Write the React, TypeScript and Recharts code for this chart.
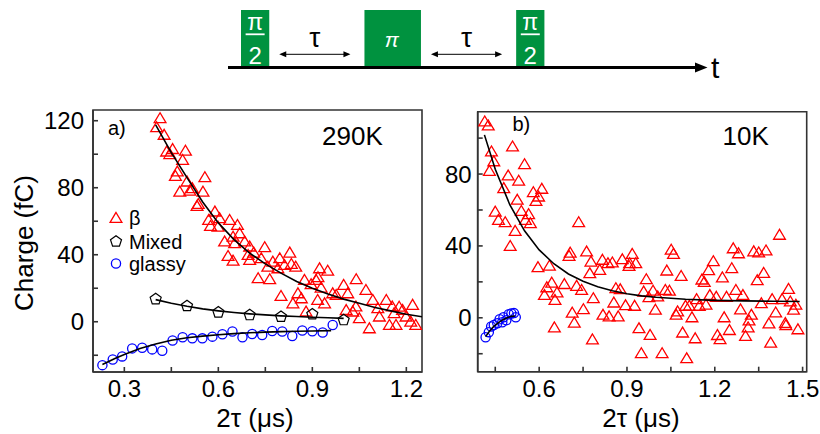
import React from 'react';
import { ScatterChart, Scatter, XAxis, YAxis, Legend, ReferenceArea } from 'recharts';

type P = [number, number];

// ---------- Panel a (290 K) ----------
const A_BETA: P[] = [
  [0.414, 121.4], [0.403, 116], [0.427, 111.5], [0.435, 101.5], [0.454, 103], [0.495, 102], [0.445, 100],
  [0.486, 96.5], [0.469, 89.6], [0.463, 87], [0.477, 77.6], [0.5, 83.6], [0.517, 79.6], [0.509, 78.2],
  [0.557, 86.2], [0.551, 77.6], [0.536, 70.2], [0.532, 69], [0.589, 65.7], [0.569, 60.7], [0.575, 57.1],
  [0.604, 61.7], [0.599, 56.7], [0.636, 60.7], [0.661, 57.7], [0.668, 52.7], [0.647, 50.7], [0.62, 47.8],
  [0.684, 47.8], [0.652, 46.8], [0.631, 39.2], [0.647, 36.4], [0.695, 39.8],
  [0.7, 44.8], [0.713, 41.2], [0.748, 44.4], [0.7, 36.8], [0.737, 37.8], [0.774, 35.8], [0.796, 37.8],
  [0.828, 41.2], [0.811, 33.8], [0.833, 34.4], [0.847, 32.8], [0.758, 32.8], [0.79, 31.8], [0.727, 25.9],
  [0.764, 25.3], [0.923, 31.8], [0.949, 30.4], [0.918, 26.5], [0.875, 24.9], [0.896, 22.3], [0.912, 24.9],
  [0.928, 20.3], [1.0, 21.9], [1.04, 25.3],
  [0.8, 15.3], [0.854, 16.9], [0.838, 10.9], [0.865, 13.9], [0.88, 6], [0.917, 12.9], [0.939, 10.9],
  [0.965, 16.9], [0.976, 15.9], [1.013, 16.9], [1.008, 6.9], [1.029, 6], [1.05, 2], [1.082, -4],
  [1.071, 18.9], [1.093, 12.9], [1.109, 8], [1.114, 3], [1.136, 12.9], [1.146, -2], [1.167, -2],
  [1.161, 5], [1.188, 7], [1.199, 3], [1.22, 10], [1.214, 0], [1.23, -2], [1.177, 8.9], [1.039, 9], [1.155, 9],
];
const A_BETA_FIT: P[] = [
  [0.4, 117.5], [0.45, 101], [0.5, 86], [0.55, 71.5], [0.6, 59], [0.65, 49], [0.7, 41], [0.75, 34.5],
  [0.8, 29], [0.85, 24], [0.9, 20], [0.95, 16.5], [1.0, 13.5], [1.05, 11], [1.1, 8.5], [1.15, 6.5],
  [1.2, 4.5], [1.25, 3],
];
const A_MIXED: P[] = [[0.4, 13.5], [0.5, 9.4], [0.6, 5.6], [0.7, 4], [0.8, 3], [0.9, 4.5], [1.0, 1]];
const A_MIXED_FIT: P[] = [
  [0.4, 13.2], [0.45, 11], [0.5, 9.2], [0.55, 7.7], [0.6, 6.5], [0.65, 5.5], [0.7, 4.7], [0.75, 4.1],
  [0.8, 3.5], [0.85, 3.1], [0.9, 2.7], [0.95, 2.4], [1.0, 2],
];
const A_GLASSY: P[] = [
  [0.23, -25.9], [0.263, -22.5], [0.293, -20.7], [0.325, -15.9], [0.357, -15.5], [0.389, -16.5],
  [0.421, -17.3], [0.454, -11.2], [0.486, -9.3], [0.517, -9.9], [0.549, -9.9], [0.581, -8.9],
  [0.613, -7.5], [0.645, -5.8], [0.677, -9.3], [0.708, -7.3], [0.74, -7.9], [0.772, -5.5],
  [0.804, -5.8], [0.836, -8.5], [0.868, -5.2], [0.9, -5.7], [0.933, -6.4], [0.965, -1.9],
];
const A_GLASSY_FIT: P[] = [
  [0.23, -25.5], [0.27, -22], [0.3, -19.5], [0.35, -16], [0.4, -13.3], [0.45, -11], [0.5, -9.6],
  [0.55, -8.6], [0.6, -7.8], [0.65, -7.1], [0.7, -6.6], [0.75, -6.2], [0.8, -5.9], [0.85, -5.7],
  [0.9, -5.5], [0.96, -5.3],
];

// ---------- Panel b (10 K) ----------
const B_BETA: P[] = [
  [0.414, 109.2], [0.426, 107], [0.509, 95.3], [0.437, 92.5], [0.445, 87], [0.43, 81.7], [0.55, 85.4],
  [0.494, 79.1], [0.53, 76.2], [0.479, 72.1], [0.58, 69.8], [0.609, 71.7], [0.598, 67.4], [0.589, 65],
  [0.525, 65.6], [0.45, 59], [0.539, 59.4], [0.461, 54.4], [0.484, 53.1], [0.564, 57.6], [0.553, 54.4],
  [0.57, 52.6], [0.518, 48.3], [0.735, 53.1],
  [0.501, 39.9], [0.706, 36.2], [0.702, 34.4], [0.762, 36.8], [0.777, 31.2], [0.773, 24.7], [0.596, 28.1],
  [0.635, 28.9], [0.643, 19.5], [0.626, 16.9], [0.618, 12.6], [0.661, 14], [0.654, 9.9], [0.686, 18.7],
  [0.728, 17.7], [0.745, 15.4], [0.713, 2.8], [0.72, -2.8], [0.751, 4.7], [0.785, 10.8], [0.652, -5.4],
  [0.782, -12.1],
  [0.816, 32.2], [0.835, 30.3], [0.85, 30.7], [0.807, 26.6], [0.884, 32.5], [0.918, 35.5], [0.909, 30.3],
  [0.93, 30.3], [0.907, 28.8], [0.862, 16.4], [0.877, 15.8], [0.855, 8.4], [0.895, 6.9], [0.926, 6.6],
  [0.818, 1.6], [0.839, 0.7], [0.87, 0.7], [0.941, -5.9], [0.979, -9.6], [0.949, -19.8], [1.02, -19.8],
  [1.104, -22.6], [0.966, 21.4], [0.957, 14.5], [0.989, 15.0], [0.975, 11.4], [1.005, 11.8], [0.997, 4.4],
  [1.036, 26.2], [1.051, 37.8], [1.059, 35.5], [1.031, 15.4], [1.045, 15], [1.085, 23.2], [1.073, 3.5],
  [1.068, 1.6], [1.09, -8.3], [1.122, 0.2], [1.133, -11.5], [1.1, 6.6], [1.113, 6.6], [1.138, 10.3],
  [1.147, 6.6], [1.17, 7.2], [1.156, 21.2], [1.164, 19.9], [1.179, 26.4], [1.195, 31.4], [1.183, 12.6],
  [1.205, 11.6], [1.209, -9.7], [1.218, -12], [1.226, 22.4], [1.232, 0.2], [1.24, 11.6], [1.25, -6.9],
  [1.258, 27.5], [1.263, 38.6], [1.281, 35.8], [1.272, 15.4], [1.296, 12.6], [1.288, 4.6], [1.305, -10.2],
  [1.314, -5.4], [1.325, 1.6], [1.317, -1.6], [1.333, 36.9], [1.35, 36.3], [1.375, 37.4], [1.345, 20.8],
  [1.367, 24.9], [1.359, 8], [1.385, -3.2], [1.391, -13.9], [1.396, 10.3], [1.408, 2.9], [1.421, 46.1],
  [1.43, 10.3], [1.441, -3.0], [1.443, -4.2], [1.452, 16.0], [1.458, 9.0], [1.469, 4.4], [1.477, 7.2],
  [1.484, -6.5],
];
const B_BETA_FIT: P[] = [
  [0.413, 101.8], [0.45, 82.7], [0.5, 62.8], [0.55, 48.4], [0.6, 37.8], [0.65, 30.1], [0.7, 24.4],
  [0.75, 20.3], [0.8, 17.3], [0.85, 15], [0.9, 13.4], [0.95, 12.2], [1.0, 11.4], [1.1, 10.3],
  [1.2, 9.7], [1.3, 9.4], [1.4, 9.2], [1.49, 9.1],
];
const B_GLASSY: P[] = [
  [0.417, -10.8], [0.428, -8], [0.436, -4.8], [0.445, -4], [0.457, -3], [0.465, -0.8], [0.474, -2.5],
  [0.478, 0.3], [0.488, -1.4], [0.496, 2], [0.505, 2.4], [0.514, 2.6], [0.52, 0.3],
];
const B_GLASSY_FIT: P[] = [
  [0.417, -10.5], [0.43, -7.5], [0.445, -4.8], [0.46, -2.8], [0.475, -1.2], [0.49, 0], [0.505, 0.8], [0.518, 1],
];

// ---------- Ticks / legend ----------
const A_X_TICKS = [0.3, 0.45, 0.6, 0.75, 0.9, 1.05, 1.2];
const A_Y_TICKS = [-20, 0, 20, 40, 60, 80, 100, 120];
const B_X_TICKS = [0.45, 0.6, 0.75, 0.9, 1.05, 1.2, 1.35, 1.5];
const B_Y_TICKS = [-20, 0, 20, 40, 60, 80, 100];
const A_X_DOMAIN: P = [0.2, 1.25];
const A_Y_DOMAIN: P = [-30, 126.4];
const B_X_DOMAIN: P = [0.39, 1.514];
const B_Y_DOMAIN: P = [-30, 114.7];
const LEGEND_ORDER = ['β', 'Mixed', 'glassy'];

// ---------- Pulse sequence (durations in units of the π/2 pulse) ----------
const PULSE_SEQ = [
  { kind: 'pulse', label: 'π/2', dur: 1 },
  { kind: 'delay', label: 'τ', dur: 3.37 },
  { kind: 'pulse', label: 'π', dur: 2 },
  { kind: 'delay', label: 'τ', dur: 3.37 },
  { kind: 'pulse', label: 'π/2', dur: 1 },
];

const FONT = '"Liberation Sans", Arial, Helvetica, sans-serif';
const AXIS = '#333333';
const GREEN = '#00923F';

const pts = (a: P[]) => a.map(([x, y]) => ({ x, y }));

const Tri = (p: any) => {
  const { cx, cy } = p;
  if (cx == null || cy == null) return <g />;
  return (
    <polygon
      points={`${cx},${cy - 5.6} ${cx - 5.9},${cy + 4.3} ${cx + 5.9},${cy + 4.3}`}
      fill="none" stroke="#FF0000" strokeWidth={1.3} strokeLinejoin="miter"
    />
  );
};
const pentPoints = (cx: number, cy: number, r: number) =>
  [0, 1, 2, 3, 4]
    .map((i) => {
      const a = -Math.PI / 2 + (i * 2 * Math.PI) / 5;
      return `${cx + r * Math.cos(a)},${cy + r * Math.sin(a)}`;
    })
    .join(' ');
const Pent = (p: any) => {
  const { cx, cy } = p;
  if (cx == null || cy == null) return <g />;
  return <polygon points={pentPoints(cx, cy, 5.8)} fill="none" stroke="#000" strokeWidth={1.2} />;
};
const Circ = (p: any) => {
  const { cx, cy } = p;
  if (cx == null || cy == null) return <g />;
  return <circle cx={cx} cy={cy} r={4.6} fill="none" stroke="#0000FF" strokeWidth={1.3} />;
};
const NoShape = () => <g />;

const makeXTick = (gap: number) => (p: any) => {
  const { x, y, payload } = p;
  const v = payload.value;
  const major = Math.abs(v * 10 - Math.round(v * 10)) < 1e-6;
  if (!major) return <g />;
  return (
    <text x={x} y={y + gap} textAnchor="middle" fontFamily={FONT} fontSize={24} fill="#000">
      {v.toFixed(1)}
    </text>
  );
};
const YTick = (p: any) => {
  const { x, y, payload } = p;
  const v = payload.value;
  if (v % 40 !== 0) return <g />;
  return (
    <text x={x} y={y + 8.5} textAnchor="end" fontFamily={FONT} fontSize={24} fill="#000">
      {String(v)}
    </text>
  );
};

const LegendBox = (props: any) => {
  const items = (props.payload || [])
    .filter((e: any) => e.type !== 'none' && LEGEND_ORDER.includes(e.value))
    .sort((a: any, b: any) => LEGEND_ORDER.indexOf(a.value) - LEGEND_ORDER.indexOf(b.value));
  const rows = [13, 36.5, 58.5];
  return (
    <svg width={100} height={72} style={{ overflow: 'visible' }}>
      {items.map((e: any, i: number) => {
        const cy = rows[i] ?? 13 + i * 23;
        const cx = 11;
        const icon =
          e.value === 'β' ? <Tri cx={cx} cy={cy} /> : e.value === 'Mixed' ? <Pent cx={cx} cy={cy} /> : <Circ cx={cx} cy={cy} />;
        return (
          <g key={i}>
            {icon}
            <text x={24} y={cy + 7} fontFamily={FONT} fontSize={20} fill="#000">
              {e.value}
            </text>
          </g>
        );
      })}
    </svg>
  );
};

const PulseDiagram = () => {
  const UNIT = 28.25;
  const T0 = 241;
  const BASE = 67.5;
  const TOP = 10;
  let cur = T0;
  const segs = PULSE_SEQ.map((s) => {
    const x0 = cur;
    cur += s.dur * UNIT;
    return { ...s, x0, x1: cur };
  });
  return (
    <g fontFamily={FONT}>
      {segs.map((s, i) => {
        const cx = (s.x0 + s.x1) / 2;
        if (s.kind === 'pulse') {
          return (
            <g key={i}>
              <rect x={s.x0} y={TOP} width={s.x1 - s.x0} height={BASE - TOP} fill={GREEN} />
              {s.label === 'π/2' ? (
                <>
                  <text x={cx} y={29.5} textAnchor="middle" fontSize={23} fill="#fff">π</text>
                  <line x1={cx - 9.5} x2={cx + 9.5} y1={34.3} y2={34.3} stroke="#fff" strokeWidth={1.8} />
                  <text x={cx} y={64} textAnchor="middle" fontSize={24} fill="#fff">2</text>
                </>
              ) : (
                <text x={cx - 1} y={46.5} textAnchor="middle" fontSize={21} fontStyle="italic" fill="#fff">
                  {s.label}
                </text>
              )}
            </g>
          );
        }
        const a0 = s.x0 + 10;
        const a1 = s.x1 - 14;
        const ay = 54.3;
        return (
          <g key={i}>
            <line x1={a0 + 2} x2={a1 - 2} y1={ay} y2={ay} stroke="#000" strokeWidth={1} />
            <polygon points={`${a0},${ay} ${a0 + 7},${ay - 3} ${a0 + 7},${ay + 3}`} fill="#000" />
            <polygon points={`${a1},${ay} ${a1 - 7},${ay - 3} ${a1 - 7},${ay + 3}`} fill="#000" />
            <text x={(a0 + a1) / 2} y={46.5} textAnchor="middle" fontSize={28} fill="#000">
              {s.label}
            </text>
          </g>
        );
      })}
      <line x1={228} x2={698} y1={BASE} y2={BASE} stroke="#000" strokeWidth={3} />
      <polygon points={`695,${BASE - 5} 707.5,${BASE} 695,${BASE + 5}`} fill="#000" />
      <text x={711} y={78} fontSize={30} fill="#000">t</text>
    </g>
  );
};

export default function App() {
  const axisCommon = { stroke: AXIS, strokeWidth: 1.6 };
  return (
    <div style={{ position: 'absolute', left: 0, top: 0, width: 820, height: 434, background: '#fff', overflow: 'hidden' }}>
      {/* Panel a */}
      <div style={{ position: 'absolute', left: 0, top: 90 }}>
        <ScatterChart width={430} height={344} margin={{ top: 20, right: 8, bottom: 0, left: 0 }}>
          <XAxis
            type="number" dataKey="x" domain={A_X_DOMAIN} allowDataOverflow ticks={A_X_TICKS}
            height={62} tickSize={-5} tickMargin={5} tick={makeXTick(25)}
            axisLine={axisCommon} tickLine={axisCommon} interval={0}
          />
          <YAxis
            type="number" dataKey="y" domain={A_Y_DOMAIN} allowDataOverflow ticks={A_Y_TICKS}
            width={93} tickSize={-5} tickMargin={14} tick={YTick}
            axisLine={axisCommon} tickLine={axisCommon} interval={0}
          />
          <ReferenceArea x1={A_X_DOMAIN[0]} x2={A_X_DOMAIN[1]} y1={A_Y_DOMAIN[0]} y2={A_Y_DOMAIN[1]} fill="none" stroke={AXIS} strokeWidth={1.6} fillOpacity={0} />
          <Scatter name="β" data={pts(A_BETA)} fill="#FF0000" shape={Tri} isAnimationActive={false} />
          <Scatter name="Mixed" data={pts(A_MIXED)} fill="#000000" shape={Pent} isAnimationActive={false} />
          <Scatter name="glassy" data={pts(A_GLASSY)} fill="#0000FF" shape={Circ} isAnimationActive={false} />
          <Scatter data={pts(A_BETA_FIT)} line={{ stroke: '#000', strokeWidth: 1.6 }} lineType="joint" shape={NoShape} legendType="none" isAnimationActive={false} />
          <Scatter data={pts(A_MIXED_FIT)} line={{ stroke: '#000', strokeWidth: 1.6 }} lineType="joint" shape={NoShape} legendType="none" isAnimationActive={false} />
          <Scatter data={pts(A_GLASSY_FIT)} line={{ stroke: '#000', strokeWidth: 1.6 }} lineType="joint" shape={NoShape} legendType="none" isAnimationActive={false} />
          <Legend
            layout="vertical" align="center" verticalAlign="middle" content={LegendBox}
            wrapperStyle={{ left: 105, top: 115, width: 100, height: 72 }}
          />
        </ScatterChart>
      </div>

      {/* Panel b */}
      <div style={{ position: 'absolute', left: 430, top: 90 }}>
        <ScatterChart width={390} height={344} margin={{ top: 21.7, right: 13.3, bottom: 0, left: 0 }}>
          <XAxis
            type="number" dataKey="x" domain={B_X_DOMAIN} allowDataOverflow ticks={B_X_TICKS}
            height={62.3} tickSize={-5} tickMargin={5} tick={makeXTick(25)}
            axisLine={axisCommon} tickLine={axisCommon} interval={0}
          />
          <YAxis
            type="number" dataKey="y" domain={B_Y_DOMAIN} allowDataOverflow ticks={B_Y_TICKS}
            width={47.7} tickSize={-5} tickMargin={11} tick={YTick}
            axisLine={axisCommon} tickLine={axisCommon} interval={0}
          />
          <ReferenceArea x1={B_X_DOMAIN[0]} x2={B_X_DOMAIN[1]} y1={B_Y_DOMAIN[0]} y2={B_Y_DOMAIN[1]} fill="none" stroke={AXIS} strokeWidth={1.6} fillOpacity={0} />
          <Scatter name="β" data={pts(B_BETA)} fill="#FF0000" shape={Tri} isAnimationActive={false} />
          <Scatter name="glassy" data={pts(B_GLASSY)} fill="#0000FF" shape={Circ} isAnimationActive={false} />
          <Scatter data={pts(B_BETA_FIT)} line={{ stroke: '#000', strokeWidth: 1.6 }} lineType="joint" shape={NoShape} legendType="none" isAnimationActive={false} />
          <Scatter data={pts(B_GLASSY_FIT)} line={{ stroke: '#000', strokeWidth: 1.6 }} lineType="joint" shape={NoShape} legendType="none" isAnimationActive={false} />
        </ScatterChart>
      </div>

      {/* Annotations and pulse sequence */}
      <svg width={820} height={434} style={{ position: 'absolute', left: 0, top: 0, pointerEvents: 'none' }}>
        <PulseDiagram />
        <g fontFamily={FONT} fill="#000">
          <text x={32.5} y={243} fontSize={26} textAnchor="middle" transform="rotate(-90 32.5 243)">Charge (fC)</text>
          <text x={255} y={427} fontSize={26} textAnchor="middle">2τ (μs)</text>
          <text x={641} y={427} fontSize={26} textAnchor="middle">2τ (μs)</text>
          <text x={108} y={135} fontSize={20}>a)</text>
          <text x={322} y={145} fontSize={26}>290K</text>
          <text x={512.5} y={131} fontSize={20}>b)</text>
          <text x={722.5} y={145} fontSize={26}>10K</text>
        </g>
      </svg>
    </div>
  );
}
